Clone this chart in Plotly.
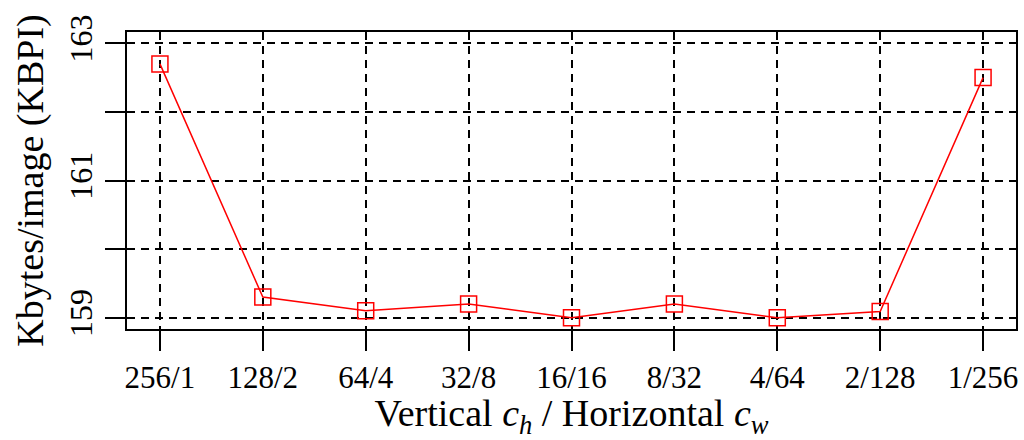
import plotly.graph_objects as go

categories = ["256/1", "128/2", "64/4", "32/8", "16/16", "8/32", "4/64", "2/128", "1/256"]
kbpi = [162.70, 159.30, 159.10, 159.20, 159.00, 159.20, 159.00, 159.09, 162.50]
y_tickvals = [159, 161, 163]
y_minor_tickvals = [159, 160, 161, 162, 163]

FONT = "Liberation Serif"

fig = go.Figure()
fig.add_trace(go.Scatter(
    x=list(range(len(categories))), y=kbpi, mode="lines+markers",
    line=dict(color="#ff0000", width=1.5),
    marker=dict(symbol="square-open", size=16, color="#ff0000", line=dict(width=1.5, color="#ff0000")),
    showlegend=False,
))

fig.update_layout(
    width=1024, height=440,
    margin=dict(l=127, r=6, t=32, b=111),
    paper_bgcolor="white", plot_bgcolor="white",
    font=dict(family=FONT, color="black"),
)
fig.update_xaxes(
    range=[-0.32, 8.32],
    tickvals=list(range(len(categories))), ticktext=categories,
    ticks="outside", ticklen=20, tickwidth=2, tickcolor="black",
    tickfont=dict(size=31, family=FONT),
    showline=True, linewidth=2, linecolor="black", mirror=True,
    showgrid=True, gridcolor="black", gridwidth=1.5, griddash="8px,6px",
    zeroline=False,
    title=dict(text="Vertical <i>c</i><sub><i>h</i></sub> / Horizontal <i>c</i><sub><i>w</i></sub>",
               font=dict(size=38, family=FONT), standoff=9),
)
fig.update_yaxes(
    range=[158.835, 163.165],
    tickvals=y_tickvals, tickangle=-90,
    ticks="outside", ticklen=20, tickwidth=2, tickcolor="black",
    tickfont=dict(size=32, family=FONT),
    showline=True, linewidth=2, linecolor="black", mirror=True,
    showgrid=True, gridcolor="black", gridwidth=1.5, griddash="8px,6px",
    minor=dict(tickvals=y_minor_tickvals, ticks="outside", ticklen=20, tickwidth=2, tickcolor="black",
               showgrid=True, gridcolor="black", gridwidth=1.5, griddash="8px,6px"),
    zeroline=False,
    title=dict(text="Kbytes/image (KBPI)", font=dict(size=38, family=FONT), standoff=8),
)

fig.write_html("out.html")
